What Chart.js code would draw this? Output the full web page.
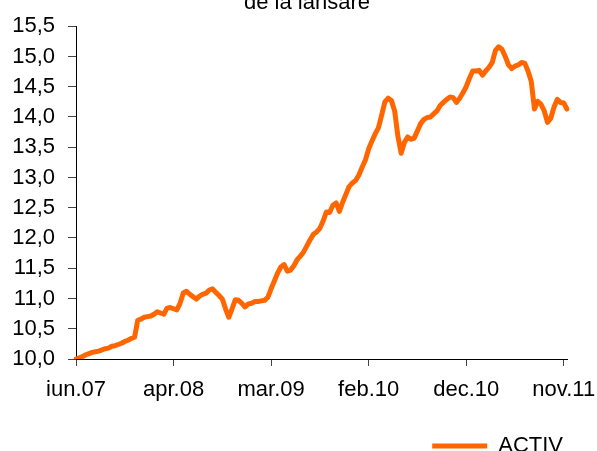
<!DOCTYPE html>
<html>
<head>
<meta charset="utf-8">
<script src="https://cdn.jsdelivr.net/npm/chart.js@4"></script>
<style>
  body { margin: 0; background: #fff; }
</style>
</head>
<body>
<canvas id="chart" width="597" height="451"></canvas>
<script>
// Orange: #FF6600

const seriesName = "ACTIV";
const titleText = "de la lansare";
const tickLabels = ["iun.07", "apr.08", "mar.09", "feb.10", "dec.10", "nov.11"];
const tickEvery = 30;

const values = [
    10.00, 10.02, 10.04, 10.07, 10.09, 10.11, 10.12, 10.13, 10.15, 10.17,
    10.18, 10.21, 10.22, 10.24, 10.26, 10.29, 10.31, 10.34, 10.36, 10.64,
    10.66, 10.69, 10.70, 10.71, 10.74, 10.78, 10.76, 10.74, 10.84, 10.85,
    10.83, 10.81, 10.92, 11.09, 11.12, 11.07, 11.03, 10.99, 11.04, 11.07,
    11.09, 11.14, 11.16, 11.10, 11.05, 10.99, 10.83, 10.69, 10.83, 10.98,
    10.97, 10.92, 10.86, 10.91, 10.92, 10.95, 10.95, 10.96, 10.97, 11.02,
    11.16, 11.29, 11.42, 11.52, 11.56, 11.45, 11.47, 11.54, 11.64, 11.70,
    11.77, 11.87, 11.97, 12.06, 12.10, 12.16, 12.28, 12.43, 12.42, 12.54,
    12.58, 12.44, 12.59, 12.72, 12.85, 12.91, 12.95, 13.04, 13.17, 13.29,
    13.47, 13.60, 13.72, 13.82, 14.03, 14.25, 14.31, 14.27, 14.10, 13.68,
    13.40, 13.58, 13.67, 13.63, 13.65, 13.77, 13.89, 13.96, 13.99, 14.00,
    14.05, 14.10, 14.19, 14.24, 14.29, 14.33, 14.32, 14.24, 14.31, 14.40,
    14.50, 14.64, 14.76, 14.76, 14.77, 14.69, 14.76, 14.82, 14.90, 15.10,
    15.16, 15.12, 15.00, 14.86, 14.80, 14.84, 14.86, 14.90, 14.89, 14.76,
    14.59, 14.13, 14.26, 14.21, 14.10, 13.91, 13.98, 14.16, 14.29, 14.24,
    14.23, 14.13
];

const labels = values.map((v, i) => i % tickEvery === 0 ? tickLabels[i / tickEvery] : "");

const font = { family: "'Liberation Sans', Arial, sans-serif", size: 22 };

// second line of the title, the first one is cut off above the picture
const titleLine = {
    id: "titleLine",
    afterDraw(chart) {
        const ctx = chart.ctx;
        ctx.save();
        ctx.font = "22px 'Liberation Sans', Arial, sans-serif";
        ctx.fillStyle = "#000";
        ctx.textAlign = "center";
        ctx.textBaseline = "alphabetic";
        ctx.fillText(titleText, 307, 9);
        ctx.restore();
    }
};

const chart = new Chart(document.getElementById("chart"), {
    type: "line",
    data: {
        labels: labels,
        datasets: [{
            label: seriesName,
            data: values,
            borderColor: "#FF6600",
            backgroundColor: "#FF6600",
            borderWidth: 5,
            borderJoinStyle: "round",
            borderCapStyle: "round",
            pointRadius: 0,
            tension: 0
        }]
    },
    options: {
        responsive: false,
        animation: false,
        layout: { padding: { top: 25, right: 30, bottom: -16, left: 0 } },
        plugins: {
            tooltip: { enabled: false },
            legend: {
                position: "bottom",
                align: "end",
                labels: {
                    usePointStyle: true,
                    pointStyle: "line",
                    pointStyleWidth: 55,
                    boxWidth: 55,
                    boxHeight: 10,
                    padding: 4,
                    color: "#000",
                    font: font
                }
            }
        },
        scales: {
            x: {
                type: "category",
                offset: false,
                afterFit: (scale) => {
                    scale.height = 72;
                    scale.paddingLeft = 0;
                    scale.paddingRight = 0;
                },
                border: { display: true, color: "#000", width: 1 },
                grid: { display: true, drawOnChartArea: false, drawTicks: true, tickLength: 7, color: "#444" },
                ticks: {
                    autoSkip: false,
                    maxRotation: 0,
                    padding: 11,
                    color: "#000",
                    font: font,
                    callback: (v, i) => labels[i] || null
                }
            },
            y: {
                min: 10,
                max: 15.5,
                afterFit: (scale) => { scale.width = 76; },
                border: { display: true, color: "#000", width: 1 },
                grid: { display: true, drawOnChartArea: false, drawTicks: true, tickLength: 8, color: "#444" },
                ticks: {
                    stepSize: 0.5,
                    padding: 13,
                    color: "#000",
                    font: font,
                    callback: (v) => v.toFixed(1).replace(".", ",")
                }
            }
        }
    },
    plugins: [titleLine]
});
</script>
</body>
</html>
